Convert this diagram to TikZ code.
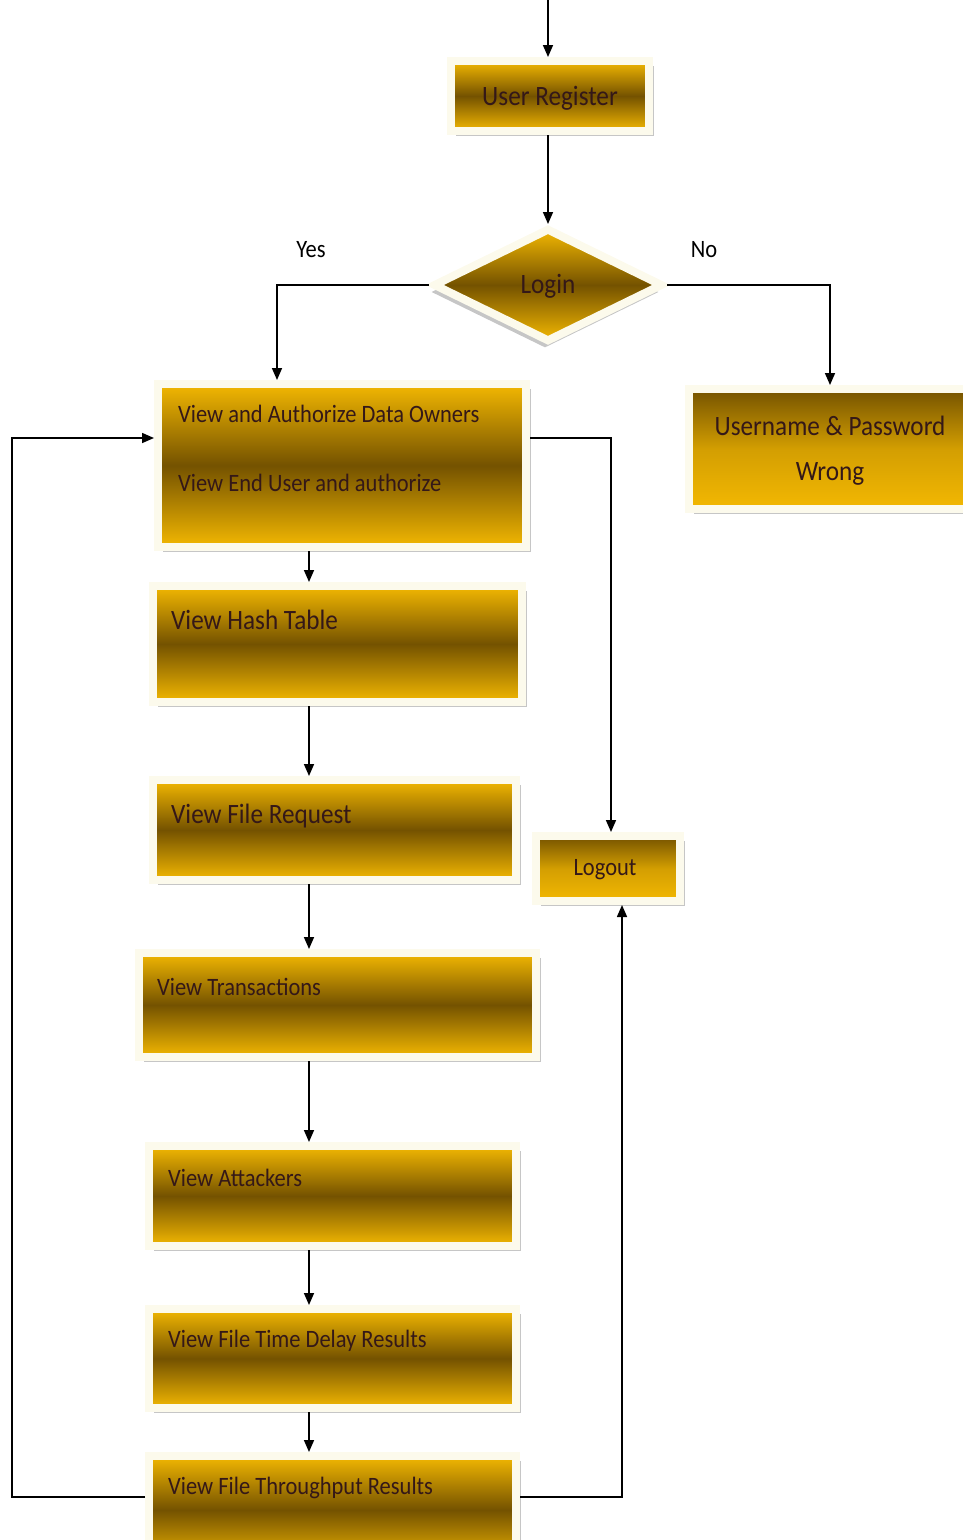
\documentclass[tikz,border=0pt]{standalone}
\usepackage{fontspec}
\setmainfont[FakeStretch=0.9]{Carlito}
\usetikzlibrary{arrows.meta,shapes.geometric,shadows}

\definecolor{gold}{RGB}{243,184,2}
\definecolor{darkgold}{RGB}{116,82,0}
\definecolor{cream}{RGB}{252,250,236}
\definecolor{txtbrown}{RGB}{52,24,24}

\begin{document}
\begin{tikzpicture}[x=1pt,y=-1pt,
  box/.style={rectangle, draw=cream, line width=8pt, inner sep=0pt,
    top color=gold, bottom color=gold, middle color=darkgold,
    drop shadow={shadow xshift=5pt, shadow yshift=-5pt, fill=gray!45, opacity=1}},
  topbox/.style={box, top color=darkgold, bottom color=gold, middle color=gold!75!darkgold},
  txt/.style={inner sep=0pt, text=txtbrown, font=\fontsize{25}{29}\selectfont},
  bigtxt/.style={txt, font=\fontsize{28}{33}\selectfont},
  line/.style={black, line width=1.6pt},
  arr/.style={line, -{Triangle[length=12pt,width=10pt]}}]
\useasboundingbox (0,0) rectangle (963,1540);
% boxes
\node [box, minimum width=198pt, minimum height=70pt] (reg) at (550,96) {};
\node [bigtxt] (regtxt) at (550,98) {User Register};
\node [diamond, draw=cream, line width=8pt, inner sep=0pt, aspect=2,
  minimum width=230pt, minimum height=114pt,
  top color=gold, bottom color=gold, middle color=darkgold,
  drop shadow={shadow xshift=-3pt, shadow yshift=-7pt, fill=gray!45, opacity=1}] (login) at (548,285) {};
\node [bigtxt] (logintxt) at (548,286) {Login};
\node [box, minimum width=368pt, minimum height=163pt] (own) at (342,465.5) {};
\node [txt, anchor=west] (owntxt) at ([xshift=24pt,yshift=-34pt]own.north west) {View and Authorize Data Owners};
\node [txt, anchor=west] (usrtxt) at ([xshift=24pt,yshift=-103pt]own.north west) {View End User and authorize};
\node [topbox, minimum width=290pt, minimum height=120pt] (wrong) at (834,449) {};
\node [bigtxt, align=center] (wrongtxt) at (830,451) {Username \& Password\\[12pt]Wrong};
\node [box, minimum width=369pt, minimum height=116pt] (hash) at (337.5,644) {};
\node [bigtxt, anchor=west] (hashtxt) at ([xshift=22pt,yshift=-38pt]hash.north west) {View Hash Table};
\node [box, minimum width=363pt, minimum height=100pt] (req) at (334.5,830) {};
\node [bigtxt, anchor=west] (reqtxt) at ([xshift=22pt,yshift=-40pt]req.north west) {View File Request};
\node [box, minimum width=397pt, minimum height=104pt] (trans) at (337.5,1005) {};
\node [txt, anchor=west] (transtxt) at ([xshift=22pt,yshift=-38pt]trans.north west) {View Transactions};
\node [box, minimum width=367pt, minimum height=100pt] (att) at (332.5,1196) {};
\node [txt, anchor=west] (atttxt) at ([xshift=23pt,yshift=-36pt]att.north west) {View Attackers};
\node [box, minimum width=367pt, minimum height=99pt] (delay) at (332.5,1358.5) {};
\node [txt, anchor=west] (delaytxt) at ([xshift=23pt,yshift=-36pt]delay.north west) {View File Time Delay Results};
\node [box, minimum width=367pt, minimum height=108pt] (thr) at (332.5,1510) {};
\node [txt, anchor=west] (thrtxt) at ([xshift=23pt,yshift=-36pt]thr.north west) {View File Throughput Results};
\node [topbox, minimum width=144pt, minimum height=65pt] (logout) at (608,868.5) {};
\node [txt] (logouttxt) at (605,870) {Logout};
% labels
\node [txt, text=black] (yes) at (311,250) {Yes};
\node [txt, text=black] (no) at (704,250) {No};
% helper points
\coordinate (start) at (548,0);
\coordinate (spine) at (309,0);
\coordinate (yesx) at (277,0);
\coordinate (nox) at (830,0);
\coordinate (loopl) at (12,1497);
\coordinate (ownl) at (0,438);
\coordinate (outx) at (611,0);
\coordinate (backx) at (622,0);
% connectors
\draw [arr] (start) -- (start |- reg.north);
\draw [arr] (reg.south -| login) -- (login.north);
\draw [arr] (login.west) -| (own.north -| yesx);
\draw [arr] (login.east) -| (wrong.north -| nox);
\draw [arr] (own.south -| spine) -- (hash.north -| spine);
\draw [arr] (hash.south -| spine) -- (req.north -| spine);
\draw [arr] (req.south -| spine) -- (trans.north -| spine);
\draw [arr] (trans.south -| spine) -- (att.north -| spine);
\draw [arr] (att.south -| spine) -- (delay.north -| spine);
\draw [arr] (delay.south -| spine) -- (thr.north -| spine);
\draw [arr] (thr.west |- loopl) -- (loopl) |- (own.west |- ownl);
\draw [arr] (own.east |- ownl) -| (logout.north -| outx);
\draw [arr] (thr.east |- loopl) -| (logout.south -| backx);
\end{tikzpicture}
\end{document}
